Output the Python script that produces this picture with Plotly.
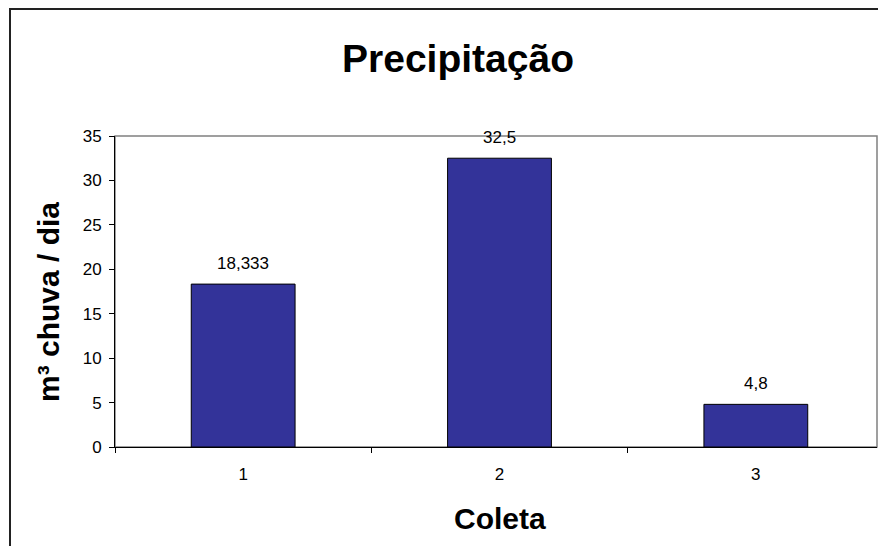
import plotly.graph_objects as go

categories = ["1", "2", "3"]
values = [18.333, 32.5, 4.8]
value_labels = ["18,333", "32,5", "4,8"]
y_ticks = [0, 5, 10, 15, 20, 25, 30, 35]

OFF = 8  # page body margin offset in screenshot
W, H = 886 - 2 * OFF, 554 - 2 * OFF
# target screen positions of plot area
SL, ST, SR, SB = 115, 136, 877, 447
BAND = (884 - 115) / 3.0  # category band width in screen px
L, T = SL - OFF, ST - OFF
R = W - (SR - OFF)
B = H - (SB - OFF)
pw, ph = W - L - R, H - T - B
x_end = -0.5 + pw / BAND

def px_x(sx):
    return (sx - OFF - L) / pw

def px_y(sy):
    return (H - B - (sy - OFF)) / ph

FONT = "Liberation Sans, Arial, sans-serif"

fig = go.Figure()
fig.add_trace(go.Bar(
    x=categories, y=values, width=0.405,
    marker=dict(color="#333399", line=dict(color="black", width=1)),
    hoverinfo="skip", showlegend=False,
))

annotations = []
for i, (v, t) in enumerate(zip(values, value_labels)):
    annotations.append(dict(x=i, y=v, xref="x", yref="y", text=t, showarrow=False,
                            yanchor="bottom", yshift=9,
                            font=dict(family=FONT, size=17, color="black")))

annotations.append(dict(x=px_x(500), y=px_y(519), xref="paper", yref="paper",
                        text="<b>Coleta</b>", showarrow=False,
                        xanchor="center", yanchor="middle",
                        font=dict(family=FONT, size=30, color="black")))
annotations.append(dict(x=px_x(48), y=px_y(302), xref="paper", yref="paper",
                        text="<b>m³ chuva / dia</b>", showarrow=False, textangle=-90,
                        xanchor="center", yanchor="middle",
                        font=dict(family=FONT, size=30, color="black")))

shapes = [
    # outer chart border
    dict(type="rect", xref="paper", yref="paper",
         x0=px_x(10), y0=px_y(620), x1=px_x(960), y1=px_y(9),
         line=dict(color="#222222", width=2), layer="below"),
    # plot area border (grey)
    dict(type="rect", xref="paper", yref="paper", x0=0, y0=0, x1=1, y1=1,
         line=dict(color="#808080", width=1.5), layer="below"),
]

fig.update_layout(
    width=W, height=H,
    margin=dict(l=L, r=R, t=T, b=B, pad=0),
    paper_bgcolor="white", plot_bgcolor="white",
    title=dict(text="<b>Precipitação</b>", x=(458 - OFF) / W, xanchor="center",
               y=1 - (58 - OFF) / H, yanchor="middle", xref="container", yref="container",
               font=dict(family=FONT, size=39, color="black")),
    xaxis=dict(type="category", range=[-0.5, x_end], showline=True, linecolor="black",
               linewidth=1, ticks="outside", tickson="boundaries", ticklen=5,
               tickcolor="black", showgrid=False, zeroline=False,
               tickfont=dict(family=FONT, size=17, color="black"), ticklabelstandoff=12),
    yaxis=dict(range=[0, 35], tickvals=y_ticks, ticktext=[str(v) for v in y_ticks],
               showline=True, linecolor="black", linewidth=1, ticks="outside",
               ticklen=5, tickcolor="black", showgrid=False, zeroline=False,
               tickfont=dict(family=FONT, size=17, color="black"), ticklabelstandoff=4),
    annotations=annotations,
    shapes=shapes,
)

fig.write_html("out.html")
